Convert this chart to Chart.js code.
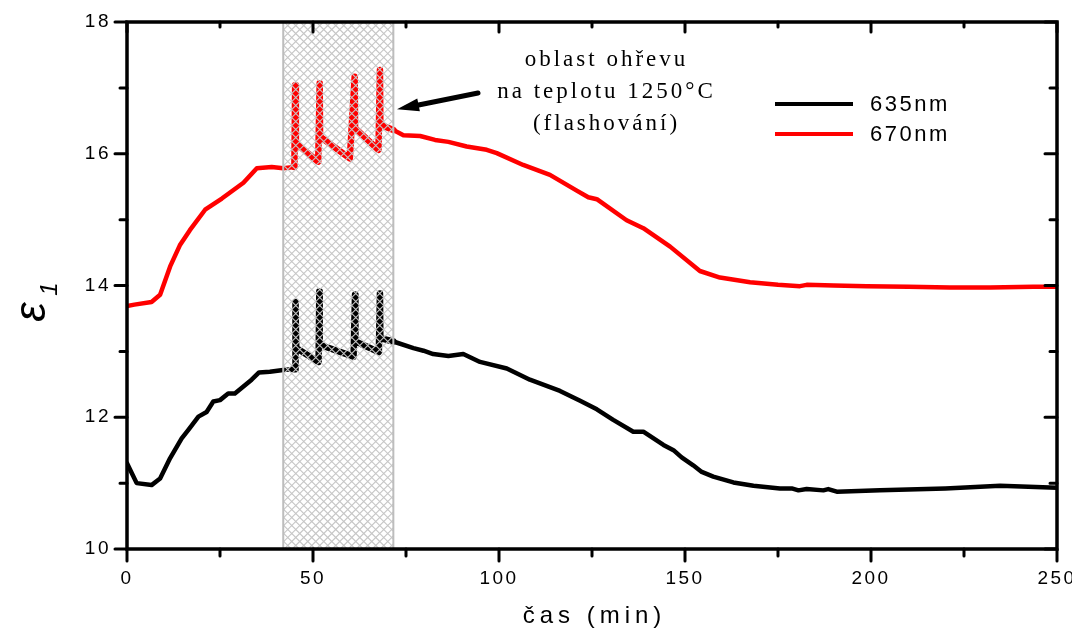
<!DOCTYPE html>
<html><head><meta charset="utf-8">
<script src="https://cdn.jsdelivr.net/npm/chart.js@4/dist/chart.umd.min.js"></script>
<style>html,body{margin:0;padding:0;background:#fff;}#wrap{width:1072px;height:632px;}</style>
</head><body><div id="wrap"><canvas id="c" width="1072" height="632" style="width:1072px;height:632px"></canvas></div>
<script>
const seriesLabels = ['635nm', '670nm'];
const t635 = [0, 2.6, 6.6, 8.9, 11.6, 14.7, 16.5, 19.2, 21.4, 23.2, 25, 27.2, 29, 33.5, 35.5, 38.4, 42.5, 44.7, 45.2, 45.3, 45.5, 51.5, 51.7, 51.8, 60.9, 61.3, 61.4, 67.7, 68.0, 68.1, 71.6, 77, 79.7, 82.3, 86.4, 90.4, 94.9, 102.1, 108.3, 116.4, 121.8, 126.3, 130.7, 136.1, 138.8, 144.2, 146.9, 149.1, 152.2, 154.5, 157.6, 163, 168.4, 175.5, 178.7, 180.5, 182.7, 187.2, 188.5, 190.8, 202.4, 220, 234.7, 250];
const e635 = [11.30, 11.0, 10.97, 11.07, 11.38, 11.68, 11.81, 12.01, 12.08, 12.24, 12.26, 12.36, 12.36, 12.57, 12.68, 12.69, 12.72, 12.73, 12.73, 13.75, 13.05, 12.84, 13.91, 13.10, 12.92, 13.86, 13.15, 12.99, 13.88, 13.20, 13.15, 13.05, 13.01, 12.96, 12.93, 12.96, 12.84, 12.74, 12.57, 12.40, 12.25, 12.12, 11.96, 11.78, 11.78, 11.58, 11.50, 11.39, 11.27, 11.17, 11.10, 11.01, 10.96, 10.92, 10.92, 10.89, 10.91, 10.89, 10.91, 10.87, 10.89, 10.92, 10.96, 10.93];
const t670 = [0, 2, 6.6, 8.9, 11.6, 14.2, 16.9, 21, 25.5, 31.3, 34.9, 38.9, 42, 45, 45.2, 45.4, 51.4, 51.8, 51.9, 59.9, 61.2, 61.3, 67.6, 68.0, 68.1, 71.6, 74.3, 78.8, 82.8, 86.4, 91.3, 96.7, 99.4, 106.5, 113.7, 120.9, 124, 126.3, 134.3, 138.8, 146, 154, 159.4, 167.5, 175, 180.9, 182.7, 190, 198.8, 210, 221.2, 232, 243.6, 250];
const e670 = [13.69, 13.71, 13.75, 13.86, 14.29, 14.61, 14.84, 15.15, 15.32, 15.56, 15.78, 15.80, 15.78, 15.80, 17.04, 16.16, 15.88, 17.07, 16.26, 15.93, 17.17, 16.39, 16.06, 17.27, 16.44, 16.36, 16.28, 16.27, 16.21, 16.18, 16.11, 16.06, 16.01, 15.83, 15.68, 15.44, 15.34, 15.31, 14.99, 14.87, 14.59, 14.22, 14.12, 14.05, 14.01, 13.99, 14.01, 14.00, 13.99, 13.98, 13.97, 13.97, 13.98, 13.98];
const xTicks = [0, 50, 100, 150, 200, 250];
const xMinor = [25, 75, 125, 175, 225];
const yTicks = [10, 12, 14, 16, 18];
const yMinor = [11, 13, 15, 17];
const heatRegion = [42, 71.6];
const annotationLines = ['oblast ohřevu', 'na teplotu 1250°C', '(flashování)'];
const xTitle = 'čas (min)';
const yTitleMain = 'ε';
const yTitleSub = '1';

const deco = {
  id: 'deco',
  beforeDraw(chart) { chart.ctx.letterSpacing = '2.5px'; },
  afterDatasetsDraw(chart) {
    const ctx = chart.ctx, a = chart.chartArea, x = chart.scales.x;
    const x0 = x.getPixelForValue(heatRegion[0]), x1 = x.getPixelForValue(heatRegion[1]);
    const h = a.bottom - a.top;
    ctx.save();
    ctx.beginPath(); ctx.rect(x0, a.top, x1 - x0, h); ctx.clip();
    ctx.strokeStyle = '#c6c6c6'; ctx.lineWidth = 1.2;
    ctx.beginPath();
    for (let k = -h - 8; k < (x1 - x0) + 8; k += 8) {
      ctx.moveTo(x0 + k, a.top); ctx.lineTo(x0 + k + h, a.bottom);
      ctx.moveTo(x0 + k, a.bottom); ctx.lineTo(x0 + k + h, a.top);
    }
    ctx.stroke();
    ctx.restore();
    ctx.save();
    ctx.strokeStyle = '#bdbdbd'; ctx.lineWidth = 2;
    ctx.strokeRect(x0, a.top, x1 - x0, h);
    ctx.restore();
  },
  afterDraw(chart) {
    const ctx = chart.ctx, a = chart.chartArea, x = chart.scales.x, y = chart.scales.y;
    ctx.save();
    ctx.letterSpacing = '0px';
    ctx.strokeStyle = '#000'; ctx.lineWidth = 3; ctx.lineCap = 'round';
    ctx.beginPath();
    yTicks.forEach(v => { const p = y.getPixelForValue(v);
      ctx.moveTo(a.left, p); ctx.lineTo(a.left - 12, p);
      ctx.moveTo(a.right, p); ctx.lineTo(a.right - 12, p); });
    yMinor.forEach(v => { const p = y.getPixelForValue(v);
      ctx.moveTo(a.left, p); ctx.lineTo(a.left - 7, p);
      ctx.moveTo(a.right, p); ctx.lineTo(a.right - 7, p); });
    xTicks.forEach(v => { const p = x.getPixelForValue(v);
      ctx.moveTo(p, a.bottom); ctx.lineTo(p, a.bottom + 12);
      ctx.moveTo(p, a.top); ctx.lineTo(p, a.top + 10); });
    xMinor.forEach(v => { const p = x.getPixelForValue(v);
      ctx.moveTo(p, a.bottom); ctx.lineTo(p, a.bottom + 7);
      ctx.moveTo(p, a.top); ctx.lineTo(p, a.top + 5); });
    ctx.stroke();
    ctx.lineCap = 'butt'; ctx.lineWidth = 3.5;
    ctx.strokeRect(a.left, a.top, a.right - a.left, a.bottom - a.top);
    ctx.restore();

    ctx.save();
    ctx.fillStyle = '#000';
    ctx.font = '24px "Liberation Sans", Arial, sans-serif';
    ctx.letterSpacing = '5px';
    ctx.textAlign = 'center'; ctx.textBaseline = 'alphabetic';
    ctx.fillText(xTitle, (a.left + a.right) / 2 + 2.5, 623);
    ctx.restore();

    ctx.save();
    ctx.fillStyle = '#000';
    ctx.translate(33, 312);
    ctx.rotate(-Math.PI / 2);
    ctx.letterSpacing = '0px';
    ctx.font = 'italic 44px "Liberation Sans", Arial, sans-serif';
    ctx.textAlign = 'center'; ctx.textBaseline = 'middle';
    ctx.fillText(yTitleMain, 0, 0);
    ctx.font = 'italic 24px "Liberation Sans", Arial, sans-serif';
    ctx.fillText(yTitleSub, 23, 17);
    ctx.restore();

    ctx.save();
    chart.data.datasets.forEach((ds, i) => {
      const yy = 104 + i * 30;
      ctx.strokeStyle = ds.borderColor; ctx.lineWidth = 4; ctx.lineCap = 'butt';
      ctx.beginPath(); ctx.moveTo(775, yy); ctx.lineTo(853, yy); ctx.stroke();
      ctx.fillStyle = '#000';
      ctx.font = '22px "Liberation Sans", Arial, sans-serif';
      ctx.letterSpacing = '2.5px';
      ctx.textAlign = 'left'; ctx.textBaseline = 'middle';
      ctx.fillText(ds.label, 870, yy + 1);
    });
    ctx.restore();

    ctx.save();
    ctx.fillStyle = '#000';
    ctx.font = '23px "Liberation Serif", "Times New Roman", serif';
    ctx.letterSpacing = '3px';
    ctx.textAlign = 'center'; ctx.textBaseline = 'alphabetic';
    annotationLines.forEach((s, i) => ctx.fillText(s, 606.5, 66 + i * 32));
    const sx = 478, sy = 93, tx = 397, ty = 109.3;
    const ang = Math.atan2(ty - sy, tx - sx);
    const hl = 22, hw = 6.5;
    const bx = tx - hl * Math.cos(ang), by = ty - hl * Math.sin(ang);
    ctx.strokeStyle = '#000'; ctx.lineWidth = 5; ctx.lineCap = 'round';
    ctx.beginPath(); ctx.moveTo(sx, sy); ctx.lineTo(bx, by); ctx.stroke();
    ctx.beginPath();
    ctx.moveTo(tx, ty);
    ctx.lineTo(bx + hw * Math.sin(ang), by - hw * Math.cos(ang));
    ctx.lineTo(bx - hw * Math.sin(ang), by + hw * Math.cos(ang));
    ctx.closePath(); ctx.fillStyle = '#000'; ctx.fill();
    ctx.restore();
  }
};

Chart.defaults.font.family = '"Liberation Sans", Arial, sans-serif';
Chart.defaults.color = '#000';

const mk = (ts, vs) => ts.map((t, i) => ({ x: t, y: vs[i] }));
const inHeat = c => c.p0.parsed.x >= heatRegion[0] + 2 && c.p1.parsed.x <= heatRegion[1] ? 6.5 : 4.5;

new Chart(document.getElementById('c'), {
  type: 'line',
  data: {
    datasets: [
      { label: seriesLabels[0], data: mk(t635, e635), borderColor: '#000000', borderWidth: 4.5, pointRadius: 0, tension: 0, borderJoinStyle: 'round', borderCapStyle: 'round', fill: false, segment: { borderWidth: inHeat } },
      { label: seriesLabels[1], data: mk(t670, e670), borderColor: '#ff0000', borderWidth: 4.5, pointRadius: 0, tension: 0, borderJoinStyle: 'round', borderCapStyle: 'round', fill: false, segment: { borderWidth: inHeat } }
    ]
  },
  options: {
    responsive: false, animation: false, devicePixelRatio: 1,
    layout: { padding: { left: 0, top: 22, right: 15, bottom: 0 } },
    plugins: { legend: { display: false }, tooltip: { enabled: false } },
    scales: {
      x: {
        type: 'linear', min: 0, max: 250,
        afterBuildTicks: s => { s.ticks = xTicks.map(v => ({ value: v })); },
        grid: { display: false, drawTicks: false }, border: { display: false },
        ticks: { padding: 18, color: '#000', font: { size: 19 }, maxRotation: 0 },
        afterFit: s => { s.height = 83; s.paddingLeft = 0; s.paddingRight = 0; }
      },
      y: {
        type: 'linear', min: 10, max: 18,
        afterBuildTicks: s => { s.ticks = yTicks.map(v => ({ value: v })); },
        grid: { display: false, drawTicks: false }, border: { display: false },
        ticks: { padding: 16, color: '#000', font: { size: 19 } },
        afterFit: s => { s.width = 127; s.paddingTop = 0; s.paddingBottom = 0; }
      }
    }
  },
  plugins: [deco]
});
</script>
</body></html>
